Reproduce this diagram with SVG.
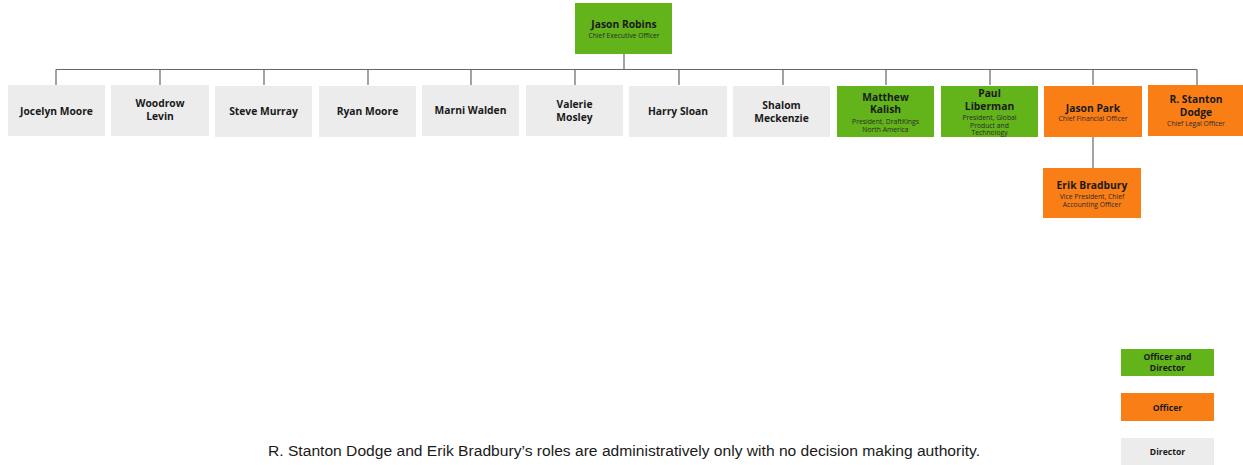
<svg xmlns="http://www.w3.org/2000/svg" width="1243" height="465" viewBox="0 0 1243 465">
<style>
.g{fill:#62b41a}
.o{fill:#fa7e16}
.d{fill:#ececec}
.n{font-family:"Open Sans","DejaVu Sans",sans-serif;font-weight:700;font-size:10.3px;fill:#1a1a1a;text-anchor:middle}
.s{font-family:"Open Sans","DejaVu Sans",sans-serif;font-size:6.8px;fill:#2a2a2a;text-anchor:middle}
.l{font-family:"Open Sans","DejaVu Sans",sans-serif;font-weight:700;font-size:8.6px;fill:#1a1a1a;text-anchor:middle}
.c{stroke:#666;stroke-width:1.2;fill:none}
</style>
<rect width="1243" height="465" fill="#fff"/>
<g id="connectors" class="c">
<path d="M624 54V69.5M56 69.5H1197"/>
<path d="M56 69.5V85M160 69.5V85M264 69.5V85M368 69.5V85M471 69.5V85M575 69.5V85M679 69.5V85M783 69.5V85M886 69.5V85M990 69.5V85M1093 69.5V85M1197 69.5V85"/>
<path d="M1093 137V168"/>
</g>
<g id="ceo"><rect class="g" x="575" y="3" width="97" height="51"/><text class="n" x="624" y="27.5">Jason Robins</text><text class="s" x="624" y="37.5">Chief Executive Officer</text></g>
<g id="jocelyn"><rect class="d" x="8" y="85" width="97" height="51"/><text class="n" x="56.5" y="114.5">Jocelyn Moore</text></g>
<g id="woodrow"><rect class="d" x="111" y="85" width="98" height="51"/><text class="n" x="160" y="107">Woodrow</text><text class="n" x="160" y="120">Levin</text></g>
<g id="steve"><rect class="d" x="215" y="86" width="97" height="51"/><text class="n" x="263.5" y="115">Steve Murray</text></g>
<g id="ryan"><rect class="d" x="319" y="86" width="97" height="51"/><text class="n" x="367.5" y="115">Ryan Moore</text></g>
<g id="marni"><rect class="d" x="422" y="85" width="97" height="51"/><text class="n" x="470.5" y="114">Marni Walden</text></g>
<g id="valerie"><rect class="d" x="526" y="85" width="97" height="51"/><text class="n" x="574.5" y="108">Valerie</text><text class="n" x="574.5" y="121">Mosley</text></g>
<g id="harry"><rect class="d" x="629" y="86" width="98" height="51"/><text class="n" x="678" y="115">Harry Sloan</text></g>
<g id="shalom"><rect class="d" x="733" y="86" width="97" height="51"/><text class="n" x="781.5" y="108.5">Shalom</text><text class="n" x="781.5" y="121.5">Meckenzie</text></g>
<g id="matthew"><rect class="g" x="837" y="86" width="97" height="51"/><text class="n" x="885.5" y="100.5">Matthew</text><text class="n" x="885.5" y="113">Kalish</text><text class="s" x="885.5" y="123.5">President, DraftKings</text><text class="s" x="885.5" y="131.5">North America</text></g>
<g id="paul"><rect class="g" x="941" y="86" width="97" height="51"/><text class="n" x="989.5" y="96.5">Paul</text><text class="n" x="989.5" y="109.5">Liberman</text><text class="s" x="989.5" y="119.5">President, Global</text><text class="s" x="989.5" y="127.5">Product and</text><text class="s" x="989.5" y="135">Technology</text></g>
<g id="jasonpark"><rect class="o" x="1044" y="86" width="98" height="51"/><text class="n" x="1093" y="111.5">Jason Park</text><text class="s" x="1093" y="120.5">Chief Financial Officer</text></g>
<g id="stanton"><rect class="o" x="1148" y="85" width="95" height="51"/><text class="n" x="1196" y="102.5">R. Stanton</text><text class="n" x="1196" y="115.5">Dodge</text><text class="s" x="1196" y="125.5">Chief Legal Officer</text></g>
<g id="erik"><rect class="o" x="1043" y="168" width="98" height="50"/><text class="n" x="1092" y="188.5">Erik Bradbury</text><text class="s" x="1092" y="198.5">Vice President, Chief</text><text class="s" x="1092" y="206.5">Accounting Officer</text></g>
<g id="legend-officer-director"><rect class="g" x="1121" y="349" width="93" height="27"/><text class="l" x="1167.5" y="360">Officer and</text><text class="l" x="1167.5" y="371">Director</text></g>
<g id="legend-officer"><rect class="o" x="1121" y="393" width="93" height="28"/><text class="l" x="1167.5" y="410.5">Officer</text></g>
<g id="legend-director"><rect class="d" x="1121" y="438" width="93" height="27"/><text class="l" x="1167.5" y="455">Director</text></g>
<text x="624" y="456" font-family="Liberation Sans, Arial, sans-serif" font-size="15.4" fill="#1a1a1a" text-anchor="middle" textLength="712" lengthAdjust="spacingAndGlyphs">R. Stanton Dodge and Erik Bradbury’s roles are administratively only with no decision making authority.</text>
</svg>
